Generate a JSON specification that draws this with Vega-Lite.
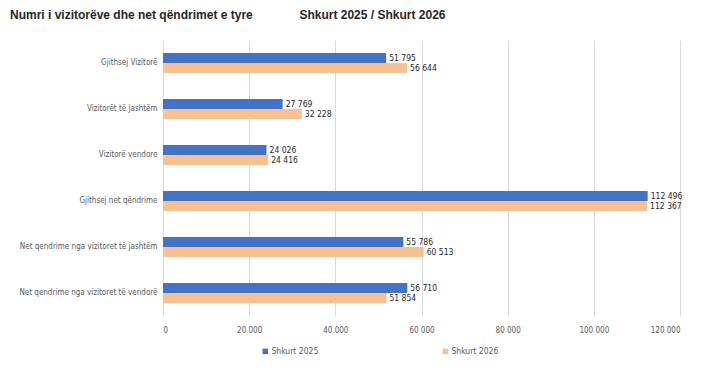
{
  "$schema": "https://vega.github.io/schema/vega-lite/v6.json",
  "width": 517,
  "height": 276,
  "autosize": {"type": "none"},
  "padding": {"left": 163, "top": 40, "right": 35, "bottom": 56},
  "title": {
    "text": "Numri i vizitorëve dhe net qëndrimet e tyre\u00a0\u00a0\u00a0\u00a0\u00a0\u00a0\u00a0\u00a0\u00a0\u00a0\u00a0\u00a0\u00a0\u00a0Shkurt 2025 / Shkurt 2026",
    "anchor": "start",
    "frame": "group",
    "dx": -153,
    "offset": 18,
    "font": "Liberation Sans",
    "fontSize": 12,
    "fontWeight": "bold",
    "color": "#262626"
  },
  "data": {
    "values": [
      {"kategoria": "Gjithsej Vizitorë", "periudha": "Shkurt 2025", "vlera": 51795},
      {"kategoria": "Gjithsej Vizitorë", "periudha": "Shkurt 2026", "vlera": 56644},
      {"kategoria": "Vizitorët të jashtëm", "periudha": "Shkurt 2025", "vlera": 27769},
      {"kategoria": "Vizitorët të jashtëm", "periudha": "Shkurt 2026", "vlera": 32228},
      {"kategoria": "Vizitorë vendore", "periudha": "Shkurt 2025", "vlera": 24026},
      {"kategoria": "Vizitorë vendore", "periudha": "Shkurt 2026", "vlera": 24416},
      {"kategoria": "Gjithsej net qëndrime", "periudha": "Shkurt 2025", "vlera": 112496},
      {"kategoria": "Gjithsej net qëndrime", "periudha": "Shkurt 2026", "vlera": 112367},
      {"kategoria": "Net qendrime nga  vizitoret të jashtëm", "periudha": "Shkurt 2025", "vlera": 55786},
      {"kategoria": "Net qendrime nga  vizitoret të jashtëm", "periudha": "Shkurt 2026", "vlera": 60513},
      {"kategoria": "Net qendrime nga  vizitoret të vendorë", "periudha": "Shkurt 2025", "vlera": 56710},
      {"kategoria": "Net qendrime nga  vizitoret të vendorë", "periudha": "Shkurt 2026", "vlera": 51854}
    ]
  },
  "encoding": {
    "y": {
      "field": "kategoria",
      "type": "nominal",
      "sort": null,
      "scale": {"paddingInner": 0.565, "paddingOuter": 0.28},
      "axis": {
        "title": null,
        "domain": false,
        "ticks": false,
        "labelPadding": 6,
        "labelFont": "DejaVu Sans Condensed, sans-serif",
        "labelFontSize": 8,
        "labelColor": "#595959",
        "labelLimit": 200
      }
    },
    "yOffset": {"field": "periudha", "type": "nominal", "sort": ["Shkurt 2025", "Shkurt 2026"]},
    "x": {
      "field": "vlera",
      "type": "quantitative",
      "scale": {"domain": [0, 120000], "nice": false},
      "axis": {
        "title": null,
        "domain": false,
        "ticks": false,
        "values": [0, 20000, 40000, 60000, 80000, 100000, 120000],
        "format": ",d",
        "labelPadding": 10,
        "labelFont": "DejaVu Sans Condensed, sans-serif",
        "labelFontSize": 8,
        "labelColor": "#595959",
        "gridColor": "#d9d9d9",
        "gridWidth": 1
      }
    }
  },
  "layer": [
    {
      "mark": {"type": "bar"},
      "encoding": {
        "color": {
          "field": "periudha",
          "type": "nominal",
          "scale": {"domain": ["Shkurt 2025", "Shkurt 2026"], "range": ["#4472C4", "#F8C193"]},
          "legend": {
            "title": null,
            "orient": "none",
            "legendX": 98,
            "legendY": 307,
            "direction": "horizontal",
            "symbolType": "square",
            "symbolSize": 30,
            "symbolStrokeWidth": 0,
            "columnPadding": 122,
            "labelOffset": 2,
            "labelFont": "DejaVu Sans Condensed, sans-serif",
            "labelFontSize": 8.5,
            "labelColor": "#595959"
          }
        }
      }
    },
    {
      "mark": {
        "type": "text",
        "align": "left",
        "baseline": "middle",
        "dx": 3,
        "font": "DejaVu Sans Condensed, sans-serif",
        "fontSize": 8.5,
        "color": "#262626"
      },
      "encoding": {
        "text": {"field": "vlera", "type": "quantitative", "format": ",d"}
      }
    }
  ],
  "config": {
    "locale": {"number": {"decimal": ",", "thousands": " ", "grouping": [3], "currency": ["", ""]}},
    "view": {"stroke": null},
    "background": "white"
  }
}
